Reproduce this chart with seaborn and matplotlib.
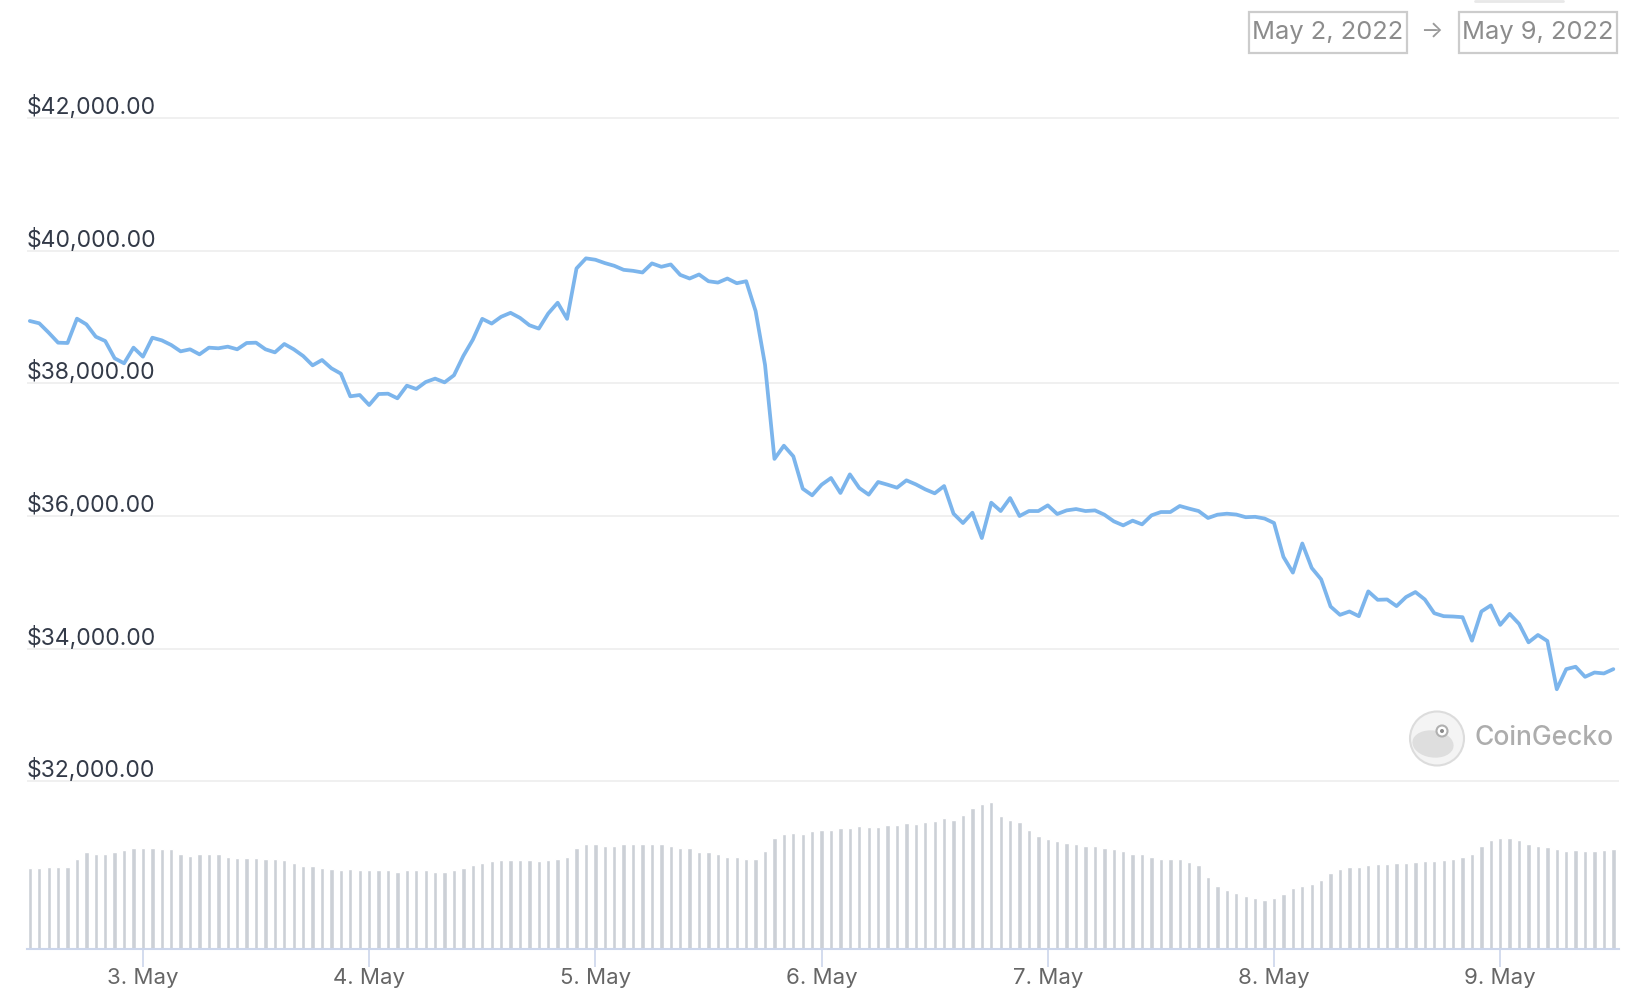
import numpy as np
import pandas as pd
import matplotlib
matplotlib.use("Agg")
import matplotlib.pyplot as plt
import matplotlib.dates as mdates
import matplotlib.transforms as mtransforms
from matplotlib.patches import Rectangle, Ellipse
from matplotlib.lines import Line2D
import seaborn as sns

# hourly BTC price (USD), May 2 12:00 -> May 9 12:00
price = [
    38940, 38905, 38764, 38613, 38608, 38975, 38889, 38703, 38638, 38377,
    38302, 38538, 38402, 38688, 38648, 38578, 38482, 38513, 38437, 38538,
    38528, 38553, 38513, 38608, 38613, 38513, 38467, 38593, 38513, 38412,
    38271, 38352, 38226, 38146, 37804, 37824, 37673, 37839, 37844, 37774,
    37965, 37915, 38020, 38071, 38015, 38122, 38415, 38658, 38972, 38901,
    39003, 39063, 38987, 38876, 38825, 39053, 39215, 38972, 39732, 39884,
    39863, 39813, 39772, 39711, 39696, 39671, 39808, 39757, 39792, 39635,
    39580, 39641, 39539, 39519, 39580, 39509, 39539, 39089, 38279, 36861,
    37060, 36900, 36412, 36312, 36472, 36573, 36347, 36628, 36422, 36322,
    36513, 36472, 36427, 36538, 36477, 36402, 36342, 36452, 36035, 35894,
    36050, 35668, 36201, 36075, 36271, 36000, 36075, 36075, 36161, 36030,
    36085, 36105, 36075, 36085, 36020, 35920, 35859, 35930, 35874, 36010,
    36060, 36060, 36151, 36111, 36075, 35970, 36020, 36035, 36022, 35982,
    35988, 35962, 35895, 35384, 35147, 35586, 35217, 35045, 34636, 34510,
    34561, 34490, 34864, 34737, 34742, 34642, 34778, 34854, 34742, 34535,
    34490, 34485, 34475, 34121, 34561, 34652, 34359, 34525, 34374, 34096,
    34207, 34116, 33389, 33692, 33728, 33576, 33641, 33627, 33692,
]

# hourly traded volume (relative units)
volume = [
    77, 77, 78, 78, 78, 86, 92, 90, 90, 92,
    94, 96, 96, 96, 95, 95, 90, 89, 90, 90,
    90, 88, 87, 87, 87, 86, 86, 85, 82, 79,
    79, 77, 76, 75, 76, 75, 75, 75, 75, 73,
    75, 75, 75, 73, 73, 75, 77, 80, 82, 84,
    85, 85, 85, 85, 84, 85, 86, 88, 96, 100,
    100, 98, 98, 100, 100, 100, 100, 100, 98, 96,
    96, 92, 92, 90, 88, 88, 86, 86, 93, 106,
    110, 111, 110, 112, 113, 113, 115, 115, 117, 116,
    116, 118, 118, 120, 119, 121, 122, 125, 123, 128,
    134, 138, 140, 127, 123, 121, 113, 108, 105, 103,
    101, 100, 98, 98, 96, 95, 93, 90, 90, 88,
    86, 86, 86, 83, 80, 68, 60, 56, 53, 50,
    48, 46, 48, 52, 58, 60, 62, 66, 72, 76,
    78, 78, 80, 81, 81, 82, 82, 83, 84, 84,
    85, 86, 88, 90, 98, 104, 106, 106, 104, 100,
    98, 97, 95, 93, 94, 93, 93, 94, 95,
]

price_ticks = [32000, 34000, 36000, 38000, 40000, 42000]
day_labels = ["3. May", "4. May", "5. May", "6. May", "7. May", "8. May", "9. May"]
date_from = "May 2, 2022"
date_to = "May 9, 2022"

times = pd.date_range("2022-05-02 12:00", periods=len(price), freq="h")
df = pd.DataFrame({"time": mdates.date2num(times), "price": price, "volume": volume})
day_ticks = mdates.date2num(pd.date_range("2022-05-03", periods=len(day_labels), freq="D"))

sns.set_theme(style="white")
plt.rcParams["font.family"] = ["Inter", "DejaVu Sans"]

W, H = 1638, 990
fig = plt.figure(figsize=(W / 100, H / 100), dpi=100)


def rect(x0, y0, x1, y1):
    return [x0 / W, 1 - y1 / H, (x1 - x0) / W, (y1 - y0) / H]


ax = fig.add_axes(rect(27, 100, 1619, 790))
axv = fig.add_axes(rect(27, 790, 1619, 948.5))

hour = 1 / 24
xlim = (df.time[0] - 0.3 * hour, df.time[0] + 168.6 * hour)

# price line
sns.lineplot(data=df, x="time", y="price", ax=ax, color="#7cb5ec", lw=2.7)
ax.set_xlim(xlim)
ax.set_ylim(31870, 42271)
ax.set_yticks(price_ticks)
ax.yaxis.grid(True, color="#efefef", lw=1.3)
ax.xaxis.grid(False)
ax.tick_params(left=False, bottom=False, labelleft=False, labelbottom=False)
ax.set_xlabel("")
ax.set_ylabel("")
sns.despine(ax=ax, left=True, bottom=True)
ax.set_facecolor("none")

trans = mtransforms.offset_copy(ax.get_yaxis_transform(), fig=fig, y=4, units="dots")
for v in price_ticks:
    ax.text(0, v, f"${v:,.2f}", transform=trans, ha="left", va="baseline",
            fontsize=16.5, color="#333a48")

# volume bars
sns.barplot(data=df, x="time", y="volume", ax=axv, native_scale=True,
            color="#ccd0d6", saturation=1, width=0.46, errorbar=None)
axv.set_xlim(xlim)
axv.set_ylim(0, 151.7)
axv.set_xticks(day_ticks)
axv.set_xticklabels(day_labels)
axv.tick_params(axis="x", bottom=True, length=13, width=1.2, color="#ccd6eb",
                labelsize=16, labelcolor="#666666", pad=1)
axv.tick_params(axis="y", left=False, labelleft=False)
axv.set_xlabel("")
axv.set_ylabel("")
axv.grid(False)
sns.despine(ax=axv, left=True)
axv.spines["bottom"].set_color("#ccd6eb")
axv.spines["bottom"].set_linewidth(1.5)
axv.set_facecolor("none")

# date range boxes
for (x0, x1), label in [((1249, 1407), date_from), ((1459, 1617), date_to)]:
    fig.add_artist(Rectangle((x0 / W, 1 - 53 / H), (x1 - x0) / W, 41 / H,
                             transform=fig.transFigure, fill=False,
                             ec="#cccccc", lw=1.6))
    fig.text((x0 + x1) / 2 / W, 1 - 32 / H, label, ha="center", va="center",
             fontsize=18.3, color="#8c8c8c")
fig.text(1431 / W, 1 - 32 / H, "→", ha="center", va="center", fontsize=17, color="#999999")
fig.add_artist(Line2D([1475 / W, 1563 / W], [1 - 1 / H] * 2, color="#e8e8e8", lw=2))

# CoinGecko watermark
fig.add_artist(Ellipse((1437 / W, 1 - 738.5 / H), 54 / W, 54 / H, transform=fig.transFigure,
                       fc="#f4f4f4", ec="#dcdcdc", lw=1.5))
fig.add_artist(Ellipse((1433 / W, 1 - 744 / H), 40 / W, 28 / H, angle=25,
                       transform=fig.transFigure, fc="#dedede", ec="none"))
fig.add_artist(Ellipse((1442 / W, 1 - 731 / H), 11 / W, 11 / H, transform=fig.transFigure,
                       fc="white", ec="#b0b0b0", lw=1.5))
fig.add_artist(Ellipse((1442 / W, 1 - 731 / H), 4 / W, 4 / H, transform=fig.transFigure,
                       fc="#888888", ec="none"))
fig.text(1474 / W, 1 - 738 / H, "CoinGecko", ha="left", va="center",
         fontsize=19, color="#adadad", fontweight="medium")

fig.savefig("out.png", dpi=100)
